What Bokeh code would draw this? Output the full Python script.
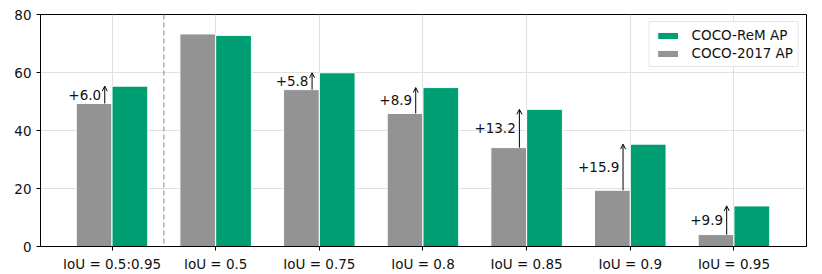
from bokeh.plotting import figure
from bokeh.models import ColumnDataSource, FixedTicker, Span, Arrow, OpenHead, Legend, LegendItem, Range1d
from bokeh.embed import file_html
from bokeh.resources import INLINE
from bokeh.core.properties import value

categories = ["IoU = 0.5:0.95", "IoU = 0.5", "IoU = 0.75", "IoU = 0.8", "IoU = 0.85", "IoU = 0.9", "IoU = 0.95"]
coco2017 = [49.3, 73.3, 54.1, 45.9, 34.1, 19.4, 4.1]
cocorem = [55.3, 72.8, 59.9, 54.8, 47.3, 35.3, 14.0]
deltas = ["+6.0", None, "+5.8", "+8.9", "+13.2", "+15.9", "+9.9"]

GREEN = "#009E73"
GRAY = "#939393"
FONT = "DejaVu Sans"
bw = 0.345
arrow_shift = 0.07

xs = list(range(len(categories)))
p = figure(output_backend="svg", toolbar_location=None,
           frame_width=766, frame_height=232,
           min_border_left=40, min_border_right=16, min_border_top=14, min_border_bottom=28,
           x_range=Range1d(-0.69, 6.7), y_range=Range1d(0, 80))

src = ColumnDataSource(dict(xg=[x - bw / 2 for x in xs], xr=[x + bw / 2 for x in xs],
                            g=coco2017, r=cocorem))
rg = p.vbar(x="xg", top="g", width=bw, source=src, fill_color=GRAY, line_color="white", line_width=1)
rr = p.vbar(x="xr", top="r", width=bw, source=src, fill_color=GREEN, line_color="white", line_width=1)

p.add_layout(Span(location=0.5, dimension="height", line_color="#999999", line_dash="5 3", line_width=1.2))

tx, ty, tt = [], [], []
for i, d in enumerate(deltas):
    if d is None:
        continue
    ax_x = xs[i] - arrow_shift
    p.add_layout(Arrow(end=OpenHead(size=5, line_width=1, line_color="black"),
                       x_start=ax_x, y_start=coco2017[i], x_end=ax_x, y_end=cocorem[i],
                       line_width=1, line_color="black"))
    tx.append(ax_x - 0.035)
    ty.append((coco2017[i] + cocorem[i]) / 2)
    tt.append(d)
p.text(x=tx, y=ty, text=tt, text_align="right", text_baseline="middle",
       text_font=value(FONT), text_font_size="13.5px", text_color="#111111")

p.xaxis.ticker = FixedTicker(ticks=xs)
p.xaxis.major_label_overrides = {i: c for i, c in enumerate(categories)}
p.yaxis.ticker = FixedTicker(ticks=[0, 20, 40, 60, 80])
for ax in (p.xaxis, p.yaxis):
    ax.major_label_text_font = FONT
    ax.major_label_text_font_size = "13.5px"
    ax.major_label_text_color = "#111111"
    ax.axis_line_color = "black"
    ax.major_tick_line_color = "black"
    ax.major_tick_out = 4
    ax.major_tick_in = 0
    ax.minor_tick_line_color = None
p.xgrid.grid_line_color = "#e0e0e0"
p.ygrid.grid_line_color = "#e0e0e0"
p.outline_line_color = "black"
p.outline_line_alpha = 1

legend = Legend(items=[LegendItem(label="COCO-ReM AP", renderers=[rr]),
                       LegendItem(label="COCO-2017 AP", renderers=[rg])],
                location="top_right", label_text_font=FONT, label_text_font_size="13.5px",
                label_text_color="#111111",
                border_line_color="#cccccc", border_line_width=1, background_fill_alpha=0.9,
                glyph_width=26, glyph_height=9, spacing=2, padding=5, margin=7,
                label_standoff=11, label_height=15)
p.add_layout(legend)

open("out.html", "w").write(file_html(p, INLINE))
